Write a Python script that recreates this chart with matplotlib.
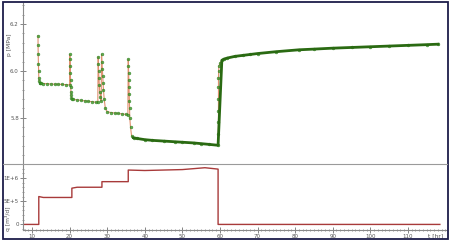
import matplotlib.pyplot as plt
from matplotlib.lines import Line2D
from matplotlib.patches import Rectangle
from matplotlib.ticker import MultipleLocator

# pressure history p [MPa] vs t [hr]
t_p = [11.6, 11.6, 11.65, 11.7, 11.75, 11.8, 11.9, 12.0, 12.2, 12.5, 13, 14, 15, 16, 17, 18, 19, 20.0,
       20.05, 20.1, 20.15, 20.2, 20.25, 20.3, 20.35, 20.4, 20.5, 20.7, 21, 22, 23, 24, 25, 26, 27, 27.5,
       27.6, 27.65, 27.7, 27.8, 27.9, 28.0, 28.2, 28.4, 28.5, 28.6, 28.7, 28.8, 28.9, 29.0, 29.2, 29.5,
       30, 31, 32, 33, 34, 35, 35.5, 35.6, 35.65, 35.7, 35.75, 35.8, 35.85, 35.9, 35.95, 36.0, 36.2, 36.5,
       37, 38, 40, 42, 45, 48, 50, 53, 55, 57, 59.5, 59.55, 59.6, 59.6, 59.6, 59.6, 59.6, 59.65, 59.7,
       60.0, 60.5, 61, 62, 64, 66, 68, 70, 75, 81, 85, 90, 95, 100, 105, 110, 115, 118]
p = [6.15, 6.11, 6.07, 6.03, 6.00, 5.97, 5.955, 5.95, 5.948, 5.947, 5.946, 5.945, 5.944, 5.943, 5.943, 5.942, 5.941, 5.94,
     6.07, 6.05, 6.02, 5.99, 5.96, 5.93, 5.91, 5.895, 5.885, 5.88, 5.878, 5.876, 5.874, 5.872, 5.870, 5.868, 5.866, 5.865,
     6.06, 6.03, 6.00, 5.97, 5.94, 5.91, 5.89, 5.87, 6.07, 6.04, 6.01, 5.98, 5.95, 5.92, 5.88, 5.84,
     5.825, 5.822, 5.820, 5.818, 5.816, 5.814, 5.812, 6.05, 6.02, 5.99, 5.96, 5.93, 5.90, 5.87, 5.84, 5.80, 5.76, 5.72,
     5.714, 5.711, 5.706, 5.703, 5.700, 5.697, 5.695, 5.692, 5.689, 5.686, 5.682, 5.73, 5.78, 5.83, 5.88, 5.93, 5.97, 6.0, 6.02,
     6.032, 6.045, 6.05, 6.055, 6.062, 6.066, 6.07, 6.074, 6.082, 6.09, 6.093, 6.097, 6.1, 6.103, 6.106, 6.109, 6.112, 6.114]

# rate history q [m3/d] vs t [hr]
t_q = [7.6, 11.8, 11.8, 13.0, 20.6, 20.6, 22.0, 28.6, 28.6, 35.6, 35.6, 40.0, 50.0, 56.0, 59.5, 59.5, 118.5]
q = [0, 0, 6.0e5, 5.8e5, 5.8e5, 7.8e5, 8.0e5, 8.0e5, 9.2e5, 9.2e5, 1.17e6, 1.16e6, 1.18e6, 1.22e6, 1.19e6, 0, 0]

W, H = 453, 247
fig = plt.figure(figsize=(W / 100, H / 100), dpi=100)
plt.rcParams['font.family'] = 'DejaVu Sans'

x0, x1 = 23, 447
ymid, ybot = 164, 230
ax1 = fig.add_axes([x0 / W, 1 - ymid / H, (x1 - x0) / W, (ymid - 3) / H])
ax2 = fig.add_axes([x0 / W, 1 - ybot / H, (x1 - x0) / W, (ybot - ymid) / H])

for ax in (ax1, ax2):
    ax.set_xlim(7.6, 120.4)
    for s in ('top', 'right', 'bottom'):
        ax.spines[s].set_visible(False)
    ax.spines['left'].set_color('#8a8a8a')
    ax.spines['left'].set_linestyle((0, (1, 1)))
    ax.spines['left'].set_linewidth(0.8)
    ax.tick_params(axis='y', which='both', direction='inout', colors='#707070', labelsize=4.0,
                   labelcolor='#555555', pad=1)
    ax.tick_params(axis='y', which='major', length=4, width=0.6)
    ax.tick_params(axis='y', which='minor', length=2, width=0.5)
    ax.patch.set_alpha(0)

ax1.plot(t_p, p, color='#e09070', lw=0.8, zorder=2)
ax1.plot(t_p, p, ls='none', marker='o', ms=2.0, mfc='#3a9a2a', mec='#2a7a1a', mew=0.4, alpha=0.8, zorder=3)
ax1.plot(t_p[70:81] + t_p[90:], p[70:81] + p[90:], color='#2a6a12', lw=2.0, zorder=4)
ax1.set_ylim(5.602, 6.29)
ax1.set_yticks([5.8, 6.0, 6.2])
ax1.set_yticklabels(['5.8', '6.0', '6.2'])
ax1.yaxis.set_minor_locator(MultipleLocator(0.04))
ax1.set_xticks([])
ax1.text(-0.033, 0.74, 'p [MPa]', transform=ax1.transAxes, rotation=90, fontsize=4.3,
         color='#555555', ha='center', va='center')

ax2.plot(t_q, q, color='#a83a3a', lw=1.0)
ax2.set_ylim(-1.2e5, 1.3e6)
ax2.set_yticks([0, 5e5, 1e6])
ax2.set_yticklabels(['0', '5E+5', '1E+6'])
ax2.yaxis.set_minor_locator(MultipleLocator(1e5))
ax2.spines['bottom'].set_visible(True)
ax2.spines['bottom'].set_color('#8a8a8a')
ax2.spines['bottom'].set_linestyle((0, (1, 1)))
ax2.spines['bottom'].set_linewidth(0.8)
ax2.set_xticks(range(10, 120, 10))
ax2.xaxis.set_minor_locator(MultipleLocator(1))
ax2.tick_params(axis='x', which='both', direction='inout', colors='#707070', labelsize=4.0,
                labelcolor='#555555', pad=1)
ax2.tick_params(axis='x', which='major', length=4, width=0.6)
ax2.tick_params(axis='x', which='minor', length=2, width=0.5)
ax2.text(-0.036, 0.17, 'q [m³/d]', transform=ax2.transAxes, rotation=90, fontsize=4.3,
         color='#555555', ha='center', va='center')
ax2.text(0.99, -0.085, 't [hr]', transform=ax2.transAxes, fontsize=4.3, color='#555555',
         ha='right', va='center')

# divider between panels and outer frame
fig.add_artist(Line2D([3 / W, 447 / W], [1 - ymid / H, 1 - ymid / H], color='#9a9a9a', lw=0.8))
fig.add_artist(Rectangle((2.5 / W, 1 - 239 / H), 445 / W, 236.5 / H, fill=False,
                         edgecolor='#1c1c4a', lw=1.3))

fig.savefig('out.png', dpi=100)
